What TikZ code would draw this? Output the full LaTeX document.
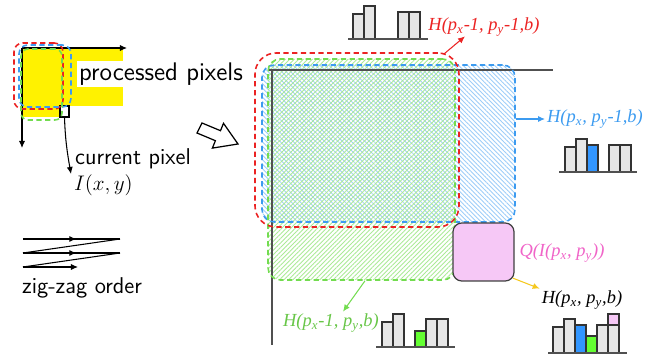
\documentclass[tikz,border=0pt]{standalone}
\usepackage{fontspec}
\usepackage{tikz}
\usetikzlibrary{arrows.meta, positioning, calc, fit, patterns.meta, decorations.markings}
\newfontfamily\lblfont{Liberation Serif}
\definecolor{regred}{RGB}{235,35,35}
\definecolor{regblue}{RGB}{60,155,240}
\definecolor{reggreen}{RGB}{115,220,80}
\definecolor{qpink}{RGB}{240,100,200}
\definecolor{qfill}{RGB}{246,200,246}
\definecolor{barblue}{RGB}{50,150,255}
\definecolor{bargreen}{RGB}{100,255,50}
\definecolor{bargray}{RGB}{230,230,230}
\definecolor{arrowgold}{RGB}{245,200,30}
\definecolor{axisgray}{RGB}{80,80,80}
\newcommand{\psub}[1]{p\textsubscript{#1}}

\begin{document}
\begin{tikzpicture}[x=0.02cm, y=-0.02cm,
  region/.style={rectangle, inner sep=0pt, dashed, dash pattern=on 3pt off 2pt,
                 line width=0.9pt, rounded corners=7pt},
  bluehatch/.style={pattern={Lines[angle=-45, distance=1.8pt, line width=0.5pt]},
                    pattern color=regblue!50},
  greenhatch/.style={pattern={Lines[angle=45, distance=1.8pt, line width=0.5pt]},
                     pattern color=reggreen!60},
  lbl/.style={font=\lblfont\itshape\fontsize{10.5}{12}\selectfont, inner sep=1pt},
  sftext/.style={font=\sffamily\fontsize{13}{15}\selectfont, inner sep=1pt},
  bar/.style={draw=black!80, fill=bargray, line width=0.6pt},
  base/.style={draw=axisgray, line width=0.7pt},
  tip/.style={-{Latex[length=4pt, width=3.5pt]}, line width=0.6pt},
  midtip/.style={line width=0.6pt, decoration={markings,
                 mark=at position 0.55 with {\arrow{Latex[length=4pt, width=3.5pt]}}},
                 postaction={decorate}}
]
\useasboundingbox (0,0) rectangle (654,358);

% ── Left: scan window ─────────────────────────────────────────────────────
\fill[yellow] (22,48) rectangle (123,106);
\fill[yellow] (22,106) rectangle (60,117);
\node[draw, fill=white, inner sep=0pt, line width=0.6pt, fit={(60,106) (69,117)}] (cur) {};
\node[sftext, font=\sffamily\fontsize{14.5}{16}\selectfont, fill=white, anchor=west]
      (proc) at (77,74) {processed pixels};

\draw[tip] (22,48) -- (127,48);
\draw[tip] (22,48) -- (22,148);

\node[region, draw=regred,   rounded corners=5pt, fit={(14,43) (63,109)}]  (sred)   {};
\node[region, draw=regblue,  rounded corners=5pt, fit={(19,45) (71,107)}]  (sblue)  {};
\node[region, draw=reggreen, rounded corners=4pt, fit={(21,49) (62,120)}]  (sgreen) {};

\coordinate (curend) at (71,174);
\draw[tip] (cur.south) to[out=-88, in=100] (curend);
\node[sftext, anchor=west] (curlbl) at (73,159) {current pixel};
\node[anchor=west, inner sep=1pt, font=\large] (ixy) at (72,185) {$I(x,y)$};

% ── Left: zig-zag order ───────────────────────────────────────────────────
\draw[midtip] (23,239) -- (120,239);
\draw[line width=0.6pt] (120,239) -- (23,253);
\draw[midtip] (23,253) -- (120,253);
\draw[line width=0.6pt] (120,253) -- (23,267);
\draw[tip] (23,267) -- (78,267);
\node[sftext, anchor=west] (zz) at (20,288) {zig-zag order};

% ── Hollow arrow ──────────────────────────────────────────────────────────
\draw[line width=0.7pt, fill=white] (202,123) -- (220.5,130.7) -- (223.5,123.3) -- (238,144)
  -- (212.4,148.1) -- (215.4,140.7) -- (197,133) -- cycle;

% ── Right: regions ────────────────────────────────────────────────────────
\node[region, bluehatch, fit={(262,65) (515,222)}]  (bluefill)  {};
\node[region, greenhatch, fit={(268,59) (455,280)}] (greenfill) {};
\draw[axisgray, line width=0.7pt] (268,70) -- (553,70);
\draw[axisgray, line width=0.7pt] (272,70) -- (272,345);
\node[region, draw=regblue,  fit={(262,65) (515,222)}] (bluereg)  {};
\node[region, draw=reggreen, fit={(268,59) (455,280)}] (greenreg) {};
\node[region, draw=regred, rounded corners=12pt, fit={(255,53) (459,227)}] (redreg) {};
\node[draw=black!75, fill=qfill, line width=0.7pt, rounded corners=5pt, inner sep=0pt,
      fit={(453,223) (514,281)}] (qbox) {};

% ── Right: labels ─────────────────────────────────────────────────────────
\node[lbl, text=regred]   (redlbl)   at (484,27)  {H(\psub{x}-1, \psub{y}-1,b)};
\node[lbl, text=regblue]  (bluelbl)  at (595,119) {H(\psub{x}, \psub{y}-1,b)};
\node[lbl, text=reggreen!90!black] (greenlbl) at (331,323) {H(\psub{x}-1, \psub{y},b)};
\node[lbl, text=qpink]    (qlbl)     at (562,253) {Q(I(\psub{x}, \psub{y}))};
\node[lbl]                (hlbl)     at (582,300) {H(\psub{x}, \psub{y},b)};

\draw[tip, regred]    ([xshift=-9pt, yshift=-1pt]redreg.north east) -- ($(redlbl.south)+(-19,-2)$);
\draw[tip, regblue]   (bluereg.east |- bluelbl.west) -- (bluelbl.west);
\draw[tip, reggreen]  ([xshift=2pt]greenreg.south) -- ($(greenlbl.north)+(12,0)$);
\draw[tip, arrowgold] ([xshift=-1pt, yshift=2pt]qbox.south east) -- (hlbl.north west);

% ── Histograms ────────────────────────────────────────────────────────────
%  H(px-1, py-1)
\draw[bar] (353,39) rectangle ++(11,-25);
\draw[bar] (364,39) rectangle ++(11,-33);
\draw[bar] (398,39) rectangle ++(11,-27);
\draw[bar] (409,39) rectangle ++(11,-27);
\draw[base] (348,39) -- (428,39);

%  H(px, py-1)
\draw[bar] (565,172) rectangle ++(11,-25);
\draw[bar] (576,172) rectangle ++(11,-33);
\draw[bar, fill=barblue] (587,172) rectangle ++(11,-27);
\draw[bar] (609,172) rectangle ++(11,-27);
\draw[bar] (620,172) rectangle ++(11,-27);
\draw[base] (559,172) -- (637,172);

%  H(px-1, py)
\draw[bar] (382,347) rectangle ++(11,-25);
\draw[bar] (393,347) rectangle ++(11,-33);
\draw[bar, fill=bargreen] (415,347) rectangle ++(11,-16);
\draw[bar] (426,347) rectangle ++(11,-28);
\draw[bar] (437,347) rectangle ++(11,-28);
\draw[base] (376,347) -- (455,347);

%  H(px, py)
\draw[bar] (553,353) rectangle ++(11,-26);
\draw[bar] (564,353) rectangle ++(11,-34);
\draw[bar, fill=barblue] (575,353) rectangle ++(11,-28);
\draw[bar, fill=bargreen] (586,353) rectangle ++(11,-17);
\draw[bar] (597,353) rectangle ++(11,-28);
\draw[bar] (608,353) rectangle ++(11,-28);
\draw[bar, fill=qfill] (608,325) rectangle ++(11,-11);
\draw[base] (548,353) -- (627,353);

\end{tikzpicture}
\end{document}
